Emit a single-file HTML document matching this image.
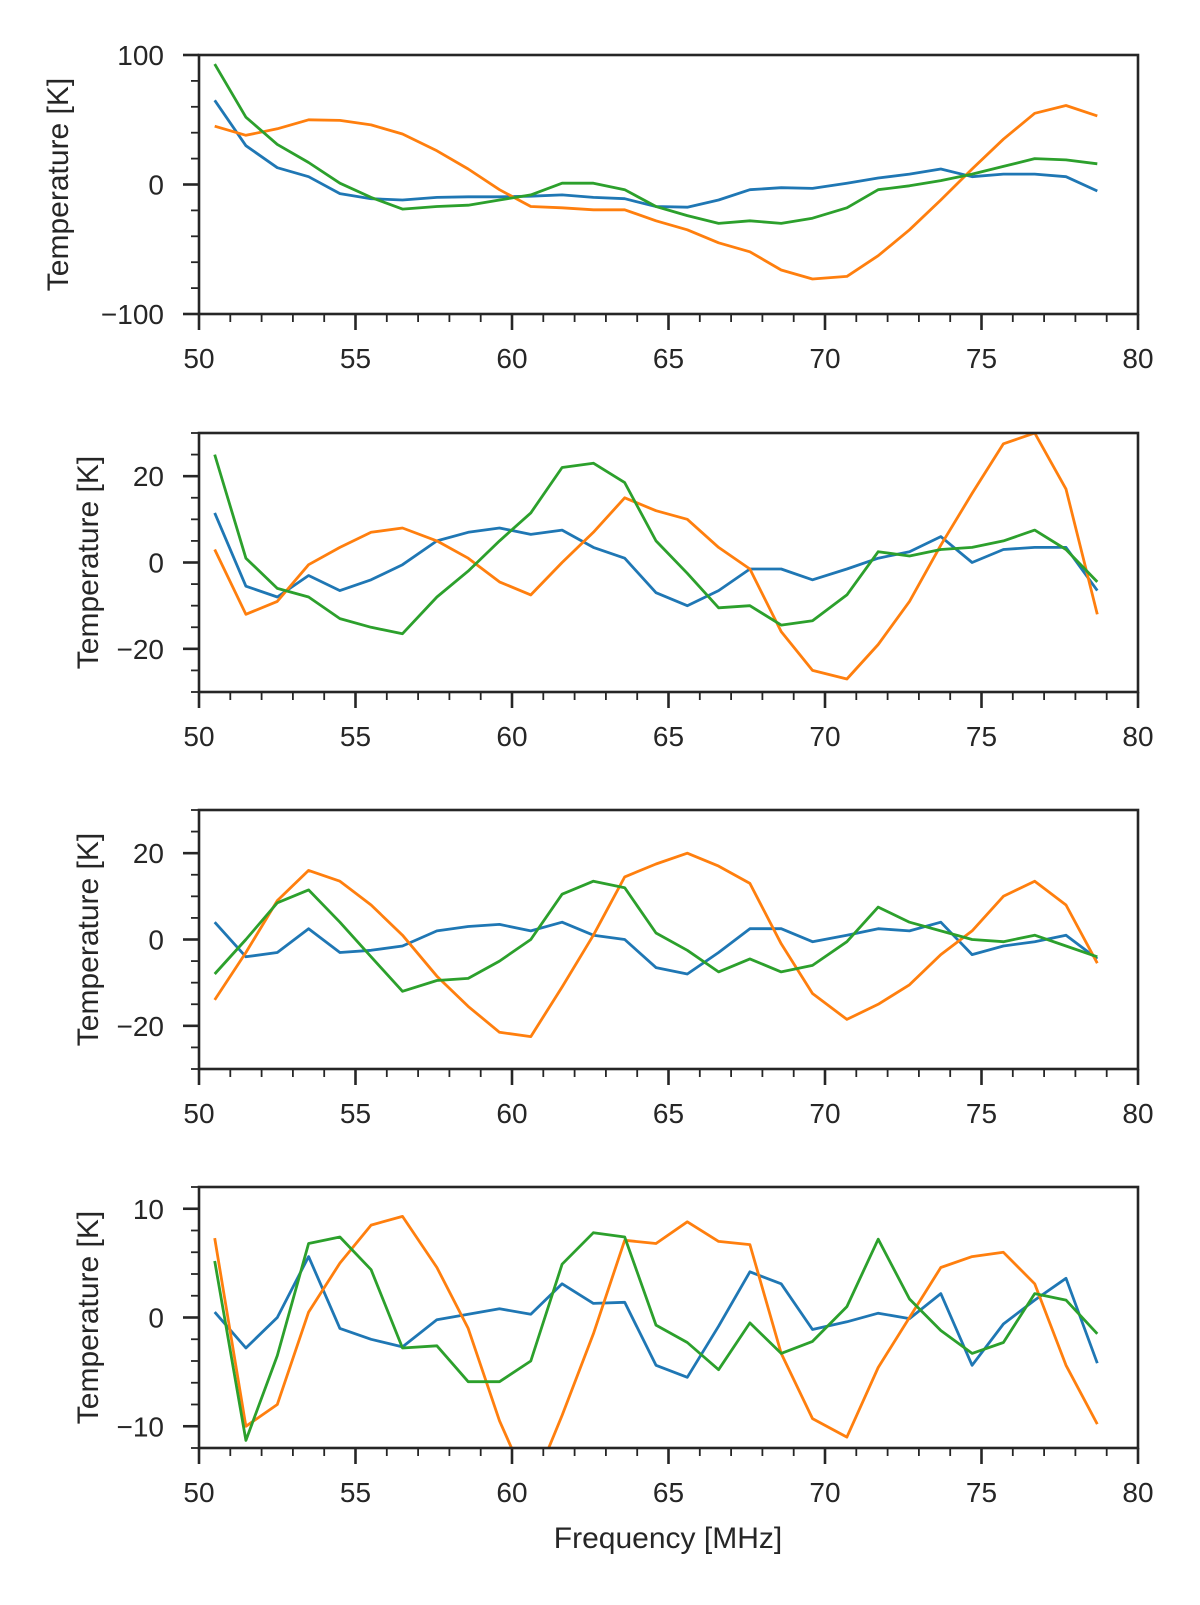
<!DOCTYPE html>
<html><head><meta charset="utf-8"><style>body{margin:0;background:#fff}svg text{font-family:"Liberation Sans",sans-serif;fill:#262626}</style></head>
<body>
<svg id="chart" width="1200" height="1600" xmlns="http://www.w3.org/2000/svg"></svg>
<script>
const freqs=[50.5,51.5,52.5,53.5,54.5,55.5,56.5,57.6,58.6,59.6,60.6,61.6,62.6,63.6,64.6,65.6,66.6,67.6,68.6,69.6,70.7,71.7,72.7,73.7,74.7,75.7,76.7,77.7,78.7];
const p1Blue=[65,30,13,6,-7,-11,-12,-10,-9.5,-9.5,-9,-8,-10,-11,-17,-17.5,-12,-4,-2.5,-3,1,5,8,12,6,8,8,6,-5];
const p1Orange=[45,38,43,50,49.5,46,39,26,12,-4,-17,-18,-19.5,-19.5,-28,-35,-45,-52,-66,-73,-71,-55,-35,-12,12,35,55,61,53];
const p1Green=[93,52,31,17,1,-10,-19,-17,-16,-12,-8,1,1,-4,-17,-24,-30,-28,-30,-26,-18,-4,-1,3,8,14,20,19,16];
const p2Blue=[11.5,-5.5,-8,-3,-6.5,-4,-0.5,5,7,8,6.5,7.5,3.5,1,-7,-10,-6.5,-1.5,-1.5,-4,-1.5,1,2.5,6,0,3,3.5,3.5,-6.5];
const p2Orange=[3,-12,-9,-0.5,3.5,7,8,5,1,-4.5,-7.5,0,7,15,12,10,3.5,-1.5,-16,-25,-27,-19,-9,4,16,27.5,30,17,-12];
const p2Green=[25,1,-6,-8,-13,-15,-16.5,-8,-2,5,11.5,22,23,18.5,5,-2.5,-10.5,-10,-14.5,-13.5,-7.5,2.5,1.5,3,3.5,5,7.5,3,-4.5];
const p3Blue=[4,-4,-3,2.5,-3,-2.5,-1.5,2,3,3.5,2,4,1,0,-6.5,-8,-3,2.5,2.5,-0.5,1,2.5,2,4,-3.5,-1.5,-0.5,1,-4.5];
const p3Orange=[-14,-3,9,16,13.5,8,1,-8.5,-15.5,-21.5,-22.5,-11,1,14.5,17.5,20,17,13,-1,-12.5,-18.5,-15,-10.5,-3.5,2,10,13.5,8,-5.5];
const p3Green=[-8,0,8.5,11.5,4,-4,-12,-9.5,-9,-5,0,10.5,13.5,12,1.5,-2.5,-7.5,-4.5,-7.5,-6,-0.5,7.5,4,2,0,-0.5,1,-1.5,-4];
const p4Blue=[0.5,-2.8,0,5.6,-1,-2,-2.7,-0.2,0.3,0.8,0.3,3.1,1.3,1.4,-4.4,-5.5,-0.8,4.2,3.1,-1.1,-0.4,0.4,-0.1,2.2,-4.4,-0.6,1.6,3.6,-4.2];
const p4Orange=[7.3,-10,-8,0.5,5,8.5,9.3,4.6,-1,-9.5,-16,-9,-1.5,7.1,6.8,8.8,7,6.7,-3.3,-9.3,-11,-4.6,0,4.6,5.6,6,3.1,-4.4,-9.8];
const p4Green=[5.2,-11.3,-3.5,6.8,7.4,4.4,-2.8,-2.6,-5.9,-5.9,-4,4.9,7.8,7.4,-0.7,-2.3,-4.8,-0.5,-3.3,-2.2,1,7.2,1.7,-1.2,-3.3,-2.3,2.2,1.6,-1.5];
const xTicks=[50,55,60,65,70,75,80];
const p1YTicks=[100,0,-100], p2YTicks=[20,0,-20], p3YTicks=[20,0,-20], p4YTicks=[10,0,-10];

const NS='http://www.w3.org/2000/svg';
const svg=document.getElementById('chart');
function mk(tag,attrs,parent){const e=document.createElementNS(NS,tag);for(const k in attrs)e.setAttribute(k,attrs[k]);(parent||svg).appendChild(e);return e;}
const X0=199,X1=1138;
const xs=v=>X0+(v-50)/30*(X1-X0);
const panels=[
 {top:55,bot:314,ymin:-100,ymax:100,ticks:p1YTicks,minor:20,lx:58,series:[p1Blue,p1Orange,p1Green]},
 {top:433,bot:692,ymin:-30,ymax:30,ticks:p2YTicks,minor:5,lx:88,series:[p2Blue,p2Orange,p2Green]},
 {top:810,bot:1069,ymin:-30,ymax:30,ticks:p3YTicks,minor:5,lx:88,series:[p3Blue,p3Orange,p3Green]},
 {top:1187,bot:1448,ymin:-12,ymax:12,ticks:p4YTicks,minor:2,lx:88,series:[p4Blue,p4Orange,p4Green]}
];
const colors=['#1f77b4','#ff7f0e','#2ca02c'];
const names=['blue','orange','green'];
panels.forEach((p,pi)=>{
 const g=mk('g',{});
 
 
 const ys=v=>p.bot-(v-p.ymin)/(p.ymax-p.ymin)*(p.bot-p.top);
 const cp=mk('clipPath',{id:'clip'+pi},g);
 mk('rect',{x:X0,y:p.top,width:X1-X0,height:p.bot-p.top},cp);
 p.series.forEach((s,si)=>{
  const d=s.map((v,i)=>(i?'L':'M')+xs(freqs[i]).toFixed(1)+','+ys(v).toFixed(1)).join(' ');
  const path=mk('path',{d:d,fill:'none',stroke:colors[si],'stroke-width':2.8,'stroke-linejoin':'round','clip-path':'url(#clip'+pi+')'},g);
  
  
 });
 const fr=mk('rect',{x:X0,y:p.top,width:X1-X0,height:p.bot-p.top,fill:'none',stroke:'#262626','stroke-width':2.6},g);
 
 
 for(let v=50;v<=80;v++){
  const major=v%5===0;
  mk('line',{x1:xs(v),x2:xs(v),y1:p.bot,y2:p.bot+(major?16:8),stroke:'#262626','stroke-width':major?2.6:1.8},g);
 }
 xTicks.forEach(v=>{
  const t=mk('text',{x:xs(v),y:p.bot+54,'font-size':28,'text-anchor':'middle'},g);
  t.textContent=v;
  
  
 });
 for(let v=Math.ceil(p.ymin/p.minor)*p.minor;v<=p.ymax;v+=p.minor){
  const major=p.ticks.includes(v);
  mk('line',{x1:X0,x2:X0-(major?16:8),y1:ys(v),y2:ys(v),stroke:'#262626','stroke-width':major?2.6:1.8},g);
 }
 p.ticks.forEach(v=>{
  const t=mk('text',{x:X0-35,y:ys(v)+10,'font-size':28,'text-anchor':'end'},g);
  t.textContent=v<0?'\u2212'+(-v):v;
  
  
 });
 const lx=p.lx;
 const yl=mk('text',{x:lx,y:(p.top+p.bot)/2+10,'font-size':30,'text-anchor':'middle',transform:'rotate(-90 '+lx+' '+((p.top+p.bot)/2)+')'},g);
 yl.textContent='Temperature [K]';
 
 
});
const xt=mk('text',{x:668,y:1548,'font-size':30,'text-anchor':'middle'});
xt.textContent='Frequency [MHz]';


</script>
</body></html>
